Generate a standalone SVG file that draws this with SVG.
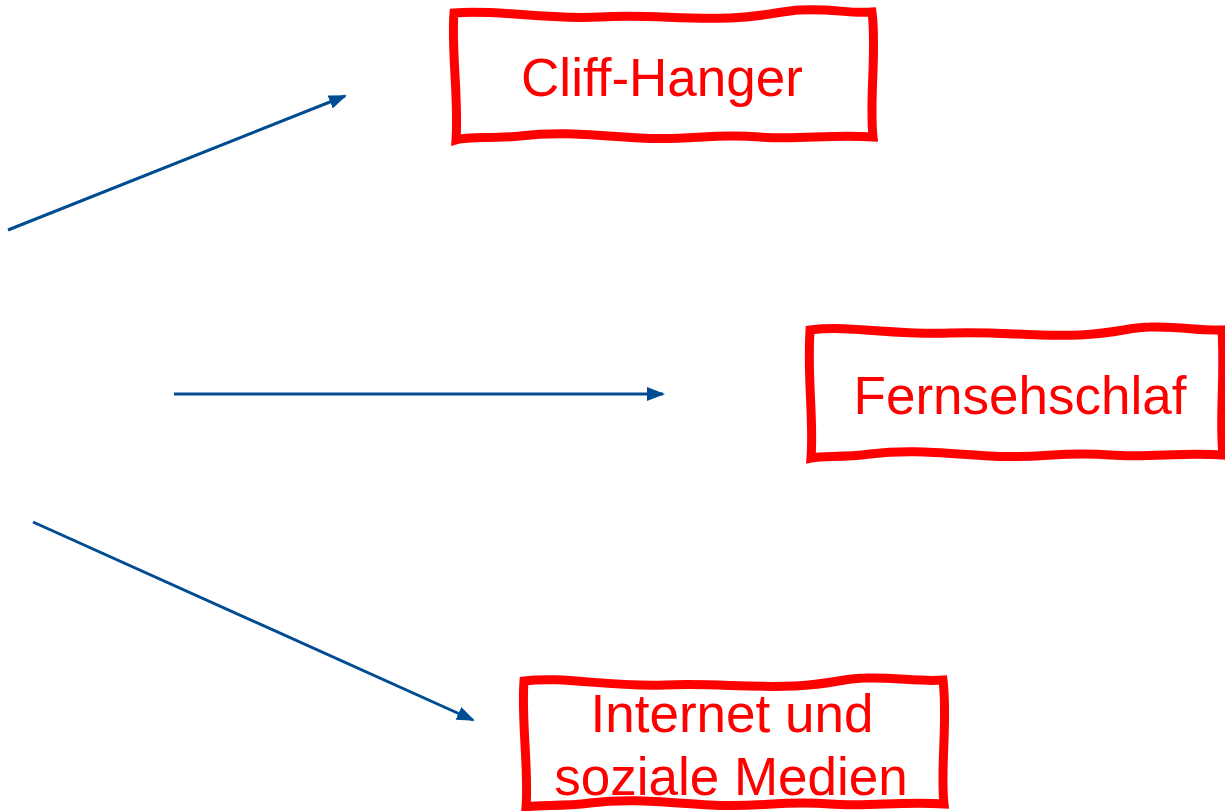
<svg xmlns="http://www.w3.org/2000/svg" width="1225" height="811" viewBox="0 0 1225 811">
<style>
.box{fill:#ffffff;stroke:#ff0000;stroke-width:9;stroke-linejoin:miter}
.lbl{font-family:"Liberation Sans",Arial,sans-serif;font-size:53px;fill:#ff0000;text-anchor:middle}
.con{stroke:#004c93;stroke-width:3;fill:none}
</style>
<defs>
<marker id="ah" markerUnits="userSpaceOnUse" markerWidth="18" markerHeight="14" refX="16" refY="7" orient="auto">
<path d="M0,0 L18,7 L0,14 Z" fill="#004c93"/>
</marker>
</defs>
<rect width="1225" height="811" fill="#ffffff"/>
<g id="connectors">
<line class="con" x1="8" y1="230" x2="345" y2="96" marker-end="url(#ah)"/>
<line class="con" x1="174" y1="394" x2="663" y2="394" marker-end="url(#ah)"/>
<line class="con" x1="33" y1="522" x2="473" y2="720" marker-end="url(#ah)"/>
</g>
<g id="node-cliff">
<path class="box" d="M454,13 C500,9 540,20 600,17 C650,14 680,20 730,18 C770,16 780,11 800,10 C830,8 850,14 872,12 C877,50 869,100 873,137 C830,134 800,140 760,137 C710,133 690,141 640,138 C590,135 560,131 520,136 C490,139 470,136 456,140 C459,100 451,50 454,13 Z"/>
<text class="lbl" x="662" y="96">Cliff-Hanger</text>
</g>
<g id="node-fernsehschlaf">
<path class="box" d="M810,330 C850,325 890,335 950,333 C1000,331 1030,337 1080,335 C1120,333 1130,327 1150,327 C1180,326 1200,331 1222,330 C1225,380 1219,420 1223,455 C1180,452 1150,458 1110,455 C1060,451 1040,459 990,456 C940,453 910,449 870,454 C840,458 825,455 811,458 C814,420 807,380 810,330 Z"/>
<text class="lbl" x="1020" y="414">Fernsehschlaf</text>
</g>
<g id="node-internet">
<path class="box" d="M524,681 C565,676 605,687 665,685 C715,683 745,688 795,686 C835,684 845,678 865,678 C895,677 920,682 943,680 C948,720 940,770 944,804 C900,801 870,807 830,804 C780,800 760,808 710,805 C660,802 630,798 590,803 C560,807 540,804 526,807 C529,770 521,720 524,681 Z"/>
<text class="lbl" x="732" y="732">Internet und</text>
<text class="lbl" x="731" y="795">soziale Medien</text>
</g>
</svg>
